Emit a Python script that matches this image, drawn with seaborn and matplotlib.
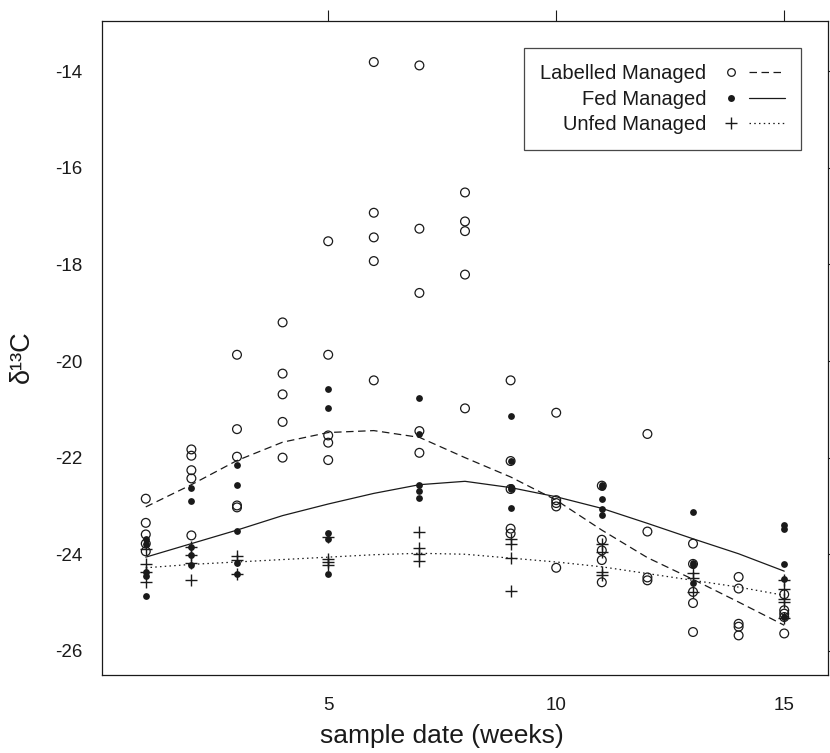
import numpy as np
import pandas as pd
import matplotlib
matplotlib.use("Agg")
import matplotlib.pyplot as plt
import seaborn as sns
from matplotlib.lines import Line2D
from matplotlib.legend_handler import HandlerTuple

# ---------------- data ----------------
series_names = ["Labelled Managed", "Fed Managed", "Unfed Managed"]

labelled_weeks = [1]*5 + [2]*5 + [3]*5 + [4]*5 + [5]*5 + [6]*5 + [7]*5 + [8]*5 + \
                 [9]*5 + [10]*5 + [11]*5 + [12]*4 + [13]*5 + [14]*5 + [15]*5
labelled_values = [-22.85, -23.35, -23.59, -23.78, -23.94,
                   -21.83, -21.96, -22.26, -22.43, -23.61,
                   -19.87, -21.41, -21.98, -22.99, -23.03,
                   -19.20, -20.26, -20.69, -21.26, -22.00,
                   -17.52, -19.87, -21.54, -21.69, -22.05,
                   -13.81, -16.93, -17.44, -17.93, -20.40,
                   -13.88, -17.26, -18.59, -21.45, -21.90,
                   -16.51, -17.11, -17.31, -18.21, -20.98,
                   -20.40, -22.07, -22.65, -23.47, -23.57,
                   -21.07, -22.88, -22.94, -23.01, -24.28,
                   -22.58, -23.70, -23.92, -24.12, -24.58,
                   -21.51, -23.53, -24.48, -24.54,
                   -23.78, -24.20, -24.78, -25.01, -25.61,
                   -24.47, -24.71, -25.44, -25.50, -25.68,
                   -24.83, -25.16, -25.23, -25.30, -25.64]

fed_weeks = [1]*5 + [2]*5 + [3]*5 + [5]*5 + [7]*5 + [9]*5 + [11]*5 + [13]*4 + [15]*5
fed_values = [-23.68, -23.78, -24.37, -24.45, -24.87,
              -22.62, -22.90, -23.85, -24.02, -24.23,
              -22.16, -22.56, -23.52, -24.18, -24.40,
              -20.58, -20.97, -23.55, -23.68, -24.41,
              -20.76, -21.52, -22.56, -22.69, -22.83,
              -21.14, -22.07, -22.60, -22.65, -23.04,
              -22.56, -22.61, -22.85, -23.07, -23.18,
              -23.12, -24.18, -24.23, -24.59,
              -23.40, -23.47, -24.21, -24.52, -25.30]

unfed_weeks = [1]*4 + [2]*4 + [3]*3 + [5]*4 + [7]*4 + [9]*4 + [11]*4 + [13]*3 + [15]*5
unfed_values = [-23.90, -24.21, -24.37, -24.57,
                -23.85, -24.02, -24.18, -24.54,
                -24.03, -24.12, -24.40,
                -23.64, -24.09, -24.16, -24.23,
                -23.54, -23.87, -23.99, -24.14,
                -23.68, -23.78, -24.08, -24.77,
                -23.78, -23.95, -24.37, -24.43,
                -24.39, -24.49, -24.78,
                -24.54, -24.71, -24.92, -24.99, -25.33]

# smoothed trend curves, read at each week
curve_weeks = list(range(1, 16))
labelled_curve = [-23.02, -22.56, -22.06, -21.68, -21.48, -21.44, -21.58, -22.00,
                  -22.40, -22.88, -23.50, -24.07, -24.52, -24.99, -25.47]
fed_curve = [-24.06, -23.78, -23.50, -23.20, -22.96, -22.74, -22.56, -22.49,
             -22.62, -22.81, -23.05, -23.36, -23.68, -23.99, -24.35]
unfed_curve = [-24.28, -24.21, -24.16, -24.11, -24.06, -24.01, -23.98, -24.00,
               -24.08, -24.16, -24.26, -24.40, -24.54, -24.68, -24.85]

x_ticks = [5, 10, 15]
y_ticks = [-26, -24, -22, -20, -18, -16, -14]

# ---------------- style ----------------
sns.set_style("white")
plt.rcParams['font.family'] = ['Liberation Sans', 'DejaVu Sans']
plt.rcParams['axes.unicode_minus'] = False

pts = pd.DataFrame({
    "week": labelled_weeks + fed_weeks + unfed_weeks,
    "d13C": labelled_values + fed_values + unfed_values,
    "group": [series_names[0]] * len(labelled_values)
             + [series_names[1]] * len(fed_values)
             + [series_names[2]] * len(unfed_values),
})
curves = pd.DataFrame({
    "week": curve_weeks * 3,
    "d13C": labelled_curve + fed_curve + unfed_curve,
    "group": [series_names[0]] * 15 + [series_names[1]] * 15 + [series_names[2]] * 15,
})

W, H = 830, 753
fig = plt.figure(figsize=(W / 100, H / 100), dpi=100)
ax = fig.add_axes([102 / W, (H - 675) / H, 726 / W, 654 / H])

ink = "#1a1a1a"
dash_ls = (0, (6, 3.6))
dot_ls = (0, (1.2, 2.6))

# points
sns.scatterplot(data=pts[pts.group == series_names[0]], x="week", y="d13C", ax=ax,
                marker="o", facecolors="none", edgecolor=ink, linewidth=0.9, s=40,
                legend=False, zorder=3)
sns.scatterplot(data=pts[pts.group == series_names[1]], x="week", y="d13C", ax=ax,
                marker="o", color=ink, edgecolor=ink, linewidth=0, s=24,
                legend=False, zorder=4)
sns.scatterplot(data=pts[pts.group == series_names[2]], x="week", y="d13C", ax=ax,
                marker="+", color=ink, linewidth=1.0, s=70,
                legend=False, zorder=4)

# curves
sns.lineplot(data=curves[curves.group == series_names[0]], x="week", y="d13C", ax=ax,
             color=ink, lw=0.9, linestyle=dash_ls, legend=False)
sns.lineplot(data=curves[curves.group == series_names[1]], x="week", y="d13C", ax=ax,
             color=ink, lw=0.9, linestyle="-", legend=False)
sns.lineplot(data=curves[curves.group == series_names[2]], x="week", y="d13C", ax=ax,
             color=ink, lw=0.9, linestyle=dot_ls, legend=False)

# axes
ax.set_xlim(0.04, 15.96)
ax.set_ylim(-26.5, -12.96)
ax.set_xticks(x_ticks)
ax.set_xticklabels([str(t) for t in x_ticks])
ax.set_yticks(y_ticks)
ax.set_yticklabels([str(t) for t in y_ticks])
ax.tick_params(axis="both", direction="out", length=8, width=0.8, color=ink,
               labelsize=13.5, labelcolor=ink, top=True, right=True,
               labeltop=False, labelright=False)
ax.tick_params(axis="x", pad=8)
ax.tick_params(axis="y", pad=6)
for sp in ax.spines.values():
    sp.set_visible(True)
    sp.set_color(ink)
    sp.set_linewidth(0.9)

ax.set_xlabel("sample date (weeks)", fontsize=19, color=ink)
ax.xaxis.set_label_coords((442 - 102) / 726, (675 - 724) / 654)
ax.set_ylabel("δ¹³C", fontsize=19.5, color=ink)
ax.yaxis.set_label_coords((35 - 102) / 726, (675 - 357) / 654)

# legend
h_lab = (Line2D([], [], marker="o", ls="none", mfc="none", mec=ink, mew=0.9, ms=5.5),
         Line2D([], [], color=ink, lw=0.9, ls=dash_ls))
h_fed = (Line2D([], [], marker="o", ls="none", mfc=ink, mec=ink, mew=0, ms=5),
         Line2D([], [], color=ink, lw=0.9, ls="-"))
h_unf = (Line2D([], [], marker="+", ls="none", mec=ink, mew=1.0, ms=9),
         Line2D([], [], color=ink, lw=0.9, ls=dot_ls))
leg = ax.legend([h_lab, h_fed, h_unf], series_names,
                handler_map={tuple: HandlerTuple(ndivide=None, pad=0)},
                markerfirst=False, loc="upper right",
                bbox_to_anchor=(801 / W, 1 - 48 / H), bbox_transform=fig.transFigure,
                borderaxespad=0, frameon=True, fancybox=False, shadow=False,
                fontsize=14.5, handlelength=3.6, handletextpad=0.3,
                labelspacing=0.32, borderpad=0.8)
leg.get_frame().set_edgecolor(ink)
leg.get_frame().set_linewidth(0.9)
for t in leg.get_texts():
    t.set_color(ink)

fig.savefig("out.png", dpi=100)
